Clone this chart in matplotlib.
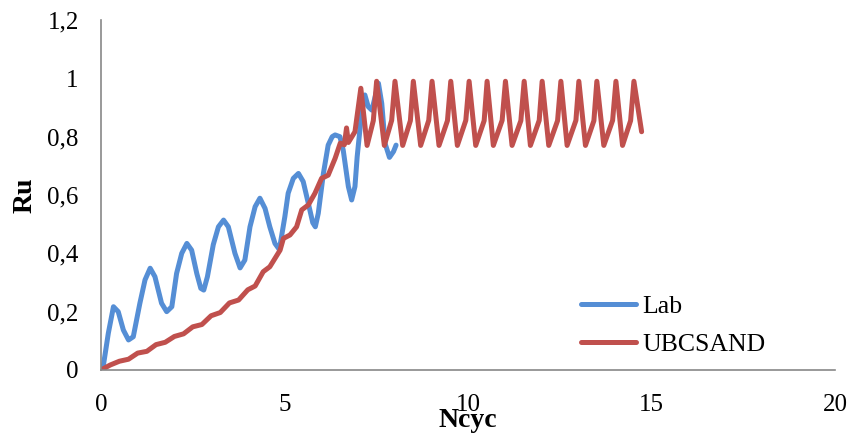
import matplotlib
matplotlib.use("Agg")
import matplotlib.pyplot as plt

# pore pressure ratio vs number of cycles: lab test and UBCSAND model
lab_ncyc = [0, 0.06, 0.2, 0.34, 0.47, 0.61, 0.75, 0.88, 1.06, 1.2, 1.34, 1.47,
            1.65, 1.79, 1.93, 2.06, 2.2, 2.34, 2.47, 2.61, 2.72, 2.8, 2.9, 3.06,
            3.2, 3.34, 3.47, 3.65, 3.79, 3.92, 4.06, 4.2, 4.33, 4.47, 4.6, 4.74,
            4.86, 5.01, 5.1, 5.24, 5.38, 5.51, 5.65, 5.77, 5.84, 5.92, 6.06,
            6.19, 6.3, 6.38, 6.51, 6.6, 6.74, 6.83, 6.92, 6.98, 7.1, 7.19, 7.28,
            7.38, 7.47, 7.56, 7.65, 7.74, 7.86, 7.97, 8.04]
lab_ru = [0, 0.011, 0.126, 0.217, 0.2, 0.137, 0.103, 0.114, 0.229, 0.309, 0.349,
          0.32, 0.229, 0.2, 0.217, 0.331, 0.4, 0.434, 0.411, 0.331, 0.28, 0.274,
          0.32, 0.43, 0.491, 0.514, 0.491, 0.4, 0.35, 0.377, 0.491, 0.56, 0.589,
          0.554, 0.491, 0.434, 0.413, 0.526, 0.606, 0.657, 0.674, 0.646, 0.571,
          0.505, 0.491, 0.537, 0.674, 0.771, 0.8, 0.806, 0.8, 0.754, 0.629,
          0.583, 0.629, 0.731, 0.88, 0.943, 0.903, 0.891, 0.937, 0.983, 0.914,
          0.777, 0.729, 0.749, 0.771]

ubc_ncyc = [0, 0.25, 0.5, 0.75, 1.0, 1.25, 1.5, 1.75, 2.0, 2.25, 2.5, 2.75,
            3.0, 3.25, 3.5, 3.75, 4.0, 4.2, 4.42, 4.6, 4.88, 4.97, 5.15, 5.33,
            5.47, 5.65, 5.83, 6.01, 6.19, 6.38, 6.52, 6.63, 6.69, 6.74, 6.92,
            7.08, 7.25, 7.42, 7.51, 7.72, 7.92, 8.01, 8.22, 8.43, 8.51, 8.71,
            8.93, 9.02, 9.21, 9.44, 9.53, 9.71, 9.94, 10.03, 10.21, 10.44, 10.52,
            10.69, 10.93, 11.02, 11.2, 11.44, 11.53, 11.7, 11.94, 12.02, 12.2,
            12.44, 12.53, 12.7, 12.94, 13.02, 13.2, 13.43, 13.51, 13.7, 13.94,
            14.03, 14.21, 14.43, 14.52, 14.73]
ubc_ru = [0, 0.017, 0.03, 0.037, 0.058, 0.064, 0.087, 0.095, 0.115, 0.124,
          0.148, 0.156, 0.186, 0.197, 0.23, 0.24, 0.275, 0.288, 0.337, 0.354,
          0.411, 0.451, 0.463, 0.491, 0.549, 0.566, 0.606, 0.657, 0.668, 0.726,
          0.778, 0.772, 0.83, 0.78, 0.817, 0.966, 0.77, 0.855, 0.99, 0.77,
          0.856, 0.99, 0.77, 0.855, 0.99, 0.77, 0.856, 0.99, 0.77, 0.855, 0.99,
          0.77, 0.856, 0.99, 0.77, 0.855, 0.99, 0.77, 0.856, 0.99, 0.77, 0.855,
          0.99, 0.77, 0.856, 0.99, 0.77, 0.855, 0.99, 0.77, 0.856, 0.99, 0.77,
          0.855, 0.99, 0.77, 0.856, 0.99, 0.77, 0.855, 0.99, 0.817]

x_ticks = [0, 5, 10, 15, 20]
y_ticks = [0, 0.2, 0.4, 0.6, 0.8, 1.0, 1.2]
y_tick_labels = ["0", "0,2", "0,4", "0,6", "0,8", "1", "1,2"]

plt.rcParams["font.family"] = ["Liberation Serif", "DejaVu Serif"]

fig = plt.figure(figsize=(8.5, 4.41), dpi=100)
ax = fig.add_axes([0.1188, 0.161, 0.8636, 0.7936])

ax.plot(lab_ncyc, lab_ru, c="#558ED5", lw=3.6, solid_joinstyle="round",
        solid_capstyle="round", label="Lab")
ax.plot(ubc_ncyc, ubc_ru, c="#C0504D", lw=3.6, solid_joinstyle="round",
        solid_capstyle="round", label="UBCSAND")

ax.set_xlim(0, 20)
ax.set_ylim(0, 1.2)
ax.set_xticks(x_ticks)
ax.set_yticks(y_ticks)
ax.set_yticklabels(y_tick_labels)
ax.tick_params(length=0, labelsize=18)
ax.tick_params(axis="y", pad=16)
ax.tick_params(axis="x", pad=17)

for side in ["top", "right"]:
    ax.spines[side].set_visible(False)
for side in ["left", "bottom"]:
    ax.spines[side].set_color("#888888")
    ax.spines[side].set_linewidth(1.2)

ax.set_xlabel("Ncyc", fontsize=20, fontweight="bold")
ax.set_ylabel("Ru", fontsize=20, fontweight="bold")
ax.xaxis.set_label_coords(0.5, -0.11, transform=ax.transAxes)
ax.yaxis.set_label_coords(-0.087, 0.5, transform=ax.transAxes)

ax.legend(loc="lower left", bbox_to_anchor=(0.64, 0.01), frameon=False,
          fontsize=18.5, handlelength=2.15, handletextpad=0.25,
          labelspacing=0.6, borderaxespad=0)

plt.savefig("out.png", dpi=100)
